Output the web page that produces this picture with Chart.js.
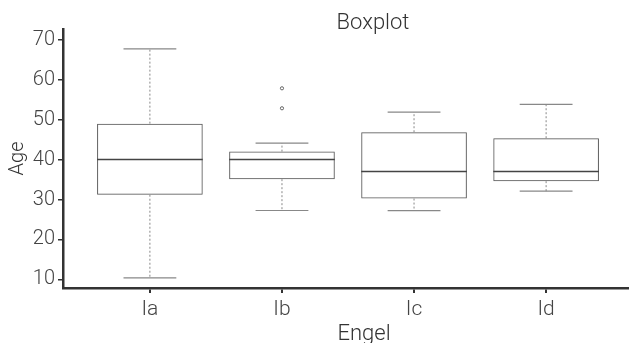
<!DOCTYPE html>
<html>
<head>
<meta charset="utf-8">
<script src="https://cdn.jsdelivr.net/npm/chart.js@4"></script>
<style>
  html, body { margin: 0; padding: 0; background: #fff; }
  #wrap { width: 633px; height: 343px; }
</style>
</head>
<body>
<div id="wrap"><canvas id="ctx"></canvas></div>
<script>
const categories = ["Ia", "Ib", "Ic", "Id"];
const lowWhisker = [10.4, 27.25, 27.2, 32.1];
const q1 = [31.2, 35.1, 30.25, 34.6];
const median = [40.0, 40.0, 37.0, 37.0];
const q3 = [49.0, 42.0, 46.85, 45.35];
const highWhisker = [67.7, 44.1, 51.9, 53.85];
const outlierGroup = [2, 2];
const outlierValue = [57.85, 52.85];
const yTicks = [10, 20, 30, 40, 50, 60, 70];

const FONT = "Roboto, 'DejaVu Sans', sans-serif";
const ctx = document.getElementById("ctx");

const boxes = [];
for (let i = 0; i < categories.length; i++) {
  boxes.push({ x: i + 1, y: [q1[i], q3[i]] });
}
const outliers = [];
for (let i = 0; i < outlierValue.length; i++) {
  outliers.push({ x: outlierGroup[i], y: outlierValue[i] });
}

// whiskers, caps and medians drawn from the scales
const boxExtras = {
  id: "boxExtras",
  afterDatasetsDraw(chart) {
    const c = chart.ctx;
    const xs = chart.scales.x;
    const ys = chart.scales.y;
    const bars = chart.getDatasetMeta(0).data;
    c.save();
    for (let i = 0; i < categories.length; i++) {
      const cx = xs.getPixelForValue(i + 1);
      const half = bars[i].width / 2;
      // dotted whiskers
      c.strokeStyle = "#888";
      c.lineWidth = 1;
      c.setLineDash([2, 2]);
      c.beginPath();
      c.moveTo(cx, ys.getPixelForValue(q3[i]));
      c.lineTo(cx, ys.getPixelForValue(highWhisker[i]));
      c.moveTo(cx, ys.getPixelForValue(q1[i]));
      c.lineTo(cx, ys.getPixelForValue(lowWhisker[i]));
      c.stroke();
      c.setLineDash([]);
      // caps
      c.strokeStyle = "#888";
      c.lineWidth = 1.2;
      c.beginPath();
      c.moveTo(cx - half / 2, ys.getPixelForValue(highWhisker[i]));
      c.lineTo(cx + half / 2, ys.getPixelForValue(highWhisker[i]));
      c.moveTo(cx - half / 2, ys.getPixelForValue(lowWhisker[i]));
      c.lineTo(cx + half / 2, ys.getPixelForValue(lowWhisker[i]));
      c.stroke();
      // median
      c.strokeStyle = "#444";
      c.lineWidth = 1.5;
      c.beginPath();
      c.moveTo(cx - half, ys.getPixelForValue(median[i]));
      c.lineTo(cx + half, ys.getPixelForValue(median[i]));
      c.stroke();
    }
    // title and x axis title
    c.fillStyle = "#333";
    c.textAlign = "center";
    c.textBaseline = "alphabetic";
    c.font = "300 22px " + FONT;
    c.fillText("Boxplot", 373, 29);
    c.fillText("Engel", 364, 340);
    c.restore();
  }
};

new Chart(ctx, {
  type: "bar",
  data: {
    datasets: [
      {
        label: "box",
        data: boxes,
        backgroundColor: "rgba(255,255,255,0)",
        borderColor: "#555",
        borderWidth: 1,
        borderSkipped: false,
        barPercentage: 0.8,
        categoryPercentage: 1,
      },
      {
        type: "scatter",
        label: "outliers",
        data: outliers,
        pointRadius: 1.6,
        pointBorderWidth: 1,
        pointBackgroundColor: "#fff",
        pointBorderColor: "#666",
      },
    ],
  },
  options: {
    responsive: true,
    maintainAspectRatio: false,
    animation: false,
    layout: { padding: { top: 29, right: 0, left: 6, bottom: 0 } },
    plugins: {
      legend: { display: false },
      tooltip: { enabled: false },
    },
    scales: {
      x: {
        type: "linear",
        offset: false,
        min: 0.342,
        max: 4.62,
        afterBuildTicks(scale) {
          scale.ticks = categories.map((c, i) => ({ value: i + 1 }));
        },
        afterFit(scale) {
          scale.height = 55;
        },
        ticks: {
          callback: (v) => categories[v - 1],
          color: "#444",
          font: { family: FONT, size: 21, weight: "300" },
          padding: 4,
        },
        grid: {
          offset: false,
          drawOnChartArea: false,
          tickLength: 5,
          color: "#333",
          lineWidth: 2,
        },
        border: { color: "#333", width: 2.5 },
      },
      y: {
        type: "linear",
        min: 7.85,
        max: 72.7,
        afterBuildTicks(scale) {
          scale.ticks = yTicks.map((v) => ({ value: v }));
        },
        afterFit(scale) {
          scale.width = 57;
        },
        ticks: {
          color: "#444",
          font: { family: FONT, size: 20, weight: "300" },
          padding: 3,
        },
        grid: {
          drawOnChartArea: false,
          tickLength: 5,
          color: "#333",
          lineWidth: 1.5,
        },
        border: { color: "#333", width: 2.5 },
        title: {
          display: true,
          text: "Age",
          color: "#333",
          font: { family: FONT, size: 20, weight: "300" },
          padding: 0,
        },
      },
    },
  },
  plugins: [boxExtras],
});
</script>
</body>
</html>
